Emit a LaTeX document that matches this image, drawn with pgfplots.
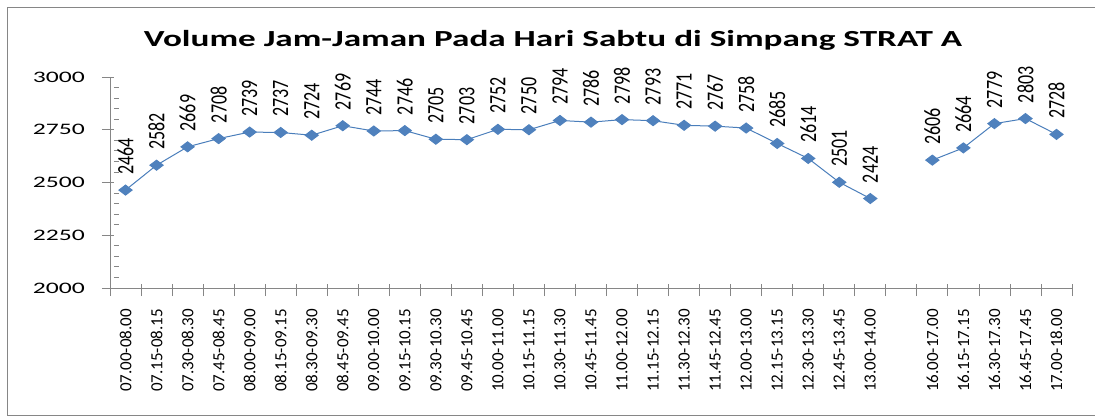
\documentclass[border=0pt]{standalone}
\usepackage{pgfplots}
\pgfplotsset{compat=1.18}
\usepackage{fontspec}
\setmainfont{Carlito}
\definecolor{lineblue}{HTML}{4A7EBB}
\definecolor{markblue}{HTML}{4F81BD}
\definecolor{axgray}{HTML}{868686}
\begin{document}
\begin{tikzpicture}
\begin{axis}[name=ax, scale only axis, width=962pt, height=211pt,
  xmin=-0.5, xmax=30.5, ymin=2000, ymax=3000,
  axis x line*=bottom, axis y line*=left,
  axis line style={axgray, line width=0.8pt, -},
  tick align=outside, major tick length=12pt, minor tick length=5pt,
  /pgf/number format/assume math mode=true,
  /pgf/number format/1000 sep={},
  ytick={2000,2250,2500,2750,3000},
  yticklabels={\scalebox{1.6}[1]{2000},\scalebox{1.6}[1]{2250},\scalebox{1.6}[1]{2500},\scalebox{1.6}[1]{2750},\scalebox{1.6}[1]{3000}},
  minor y tick num=4,
  y tick style={axgray, line width=0.8pt, xshift=4pt},
  minor y tick style={axgray, line width=0.8pt, xshift=5pt},
  yticklabel style={font=\fontsize{16}{16}\selectfont, anchor=east, inner sep=0pt},
  yticklabel shift=13pt,
  xtick={-0.5,0.5,...,30.5},
  xticklabels={},
  x tick style={axgray, line width=0.8pt, yshift=4pt},
  extra x ticks={0,...,30},
  extra x tick labels={07.00-08.00,07.15-08.15,07.30-08.30,07.45-08.45,08.00-09.00,08.15-09.15,08.30-09.30,08.45-09.45,09.00-10.00,09.15-10.15,09.30-10.30,09.45-10.45,10.00-11.00,10.15-11.15,10.30-11.30,10.45-11.45,11.00-12.00,11.15-12.15,11.30-12.30,11.45-12.45,12.00-13.00,12.15-13.15,12.30-13.30,12.45-13.45,13.00-14.00,{},16.00-17.00,16.15-17.15,16.30-17.30,16.45-17.45,17.00-18.00},
  extra x tick style={major tick length=0pt, x tick style={draw=none},
    xticklabel style={font=\fontsize{17}{17}\selectfont, rotate=90, anchor=east, inner sep=0pt},
    xticklabel shift=21pt},
  nodes near coords,
  point meta=y,
  every node near coord/.append style={font=\fontsize{18}{18}\selectfont, rotate=90, anchor=west, inner sep=0pt, xshift=15pt, text=black},
  nodes near coords={\scalebox{1}[1.3]{\pgfmathprintnumber{\pgfplotspointmeta}}},
  clip=false,
]
\addplot[lineblue, line width=1pt, mark=diamond*, mark size=5pt, mark options={markblue, fill=markblue, xscale=1.75}] coordinates {
(0,2464) (1,2582) (2,2669) (3,2708) (4,2739) (5,2737) (6,2724) (7,2769) (8,2744) (9,2746)
(10,2705) (11,2703) (12,2752) (13,2750) (14,2794) (15,2786) (16,2798) (17,2793) (18,2771) (19,2767)
(20,2758) (21,2685) (22,2614) (23,2501) (24,2424)
};
\addplot[lineblue, line width=1pt, mark=diamond*, mark size=5pt, mark options={markblue, fill=markblue, xscale=1.75}] coordinates {
(26,2606) (27,2664) (28,2779) (29,2803) (30,2728)
};
\end{axis}
\node[font=\bfseries\fontsize{23}{23}\selectfont, anchor=base] at ([xshift=443pt,yshift=241pt]ax.south west) {\scalebox{1.53}[1]{Volume Jam-Jaman Pada Hari Sabtu di Simpang STRAT A}};
\draw[axgray, line width=0.8pt] ([xshift=985pt,yshift=281pt]ax.south west) -- ([xshift=-103pt,yshift=281pt]ax.south west) -- ([xshift=-103pt,yshift=-127pt]ax.south west) -- ([xshift=985pt,yshift=-127pt]ax.south west);
\pgfresetboundingbox
\useasboundingbox ([xshift=-110pt,yshift=-129pt]ax.south west) rectangle ([xshift=985pt,yshift=288pt]ax.south west);
\end{tikzpicture}
\end{document}
